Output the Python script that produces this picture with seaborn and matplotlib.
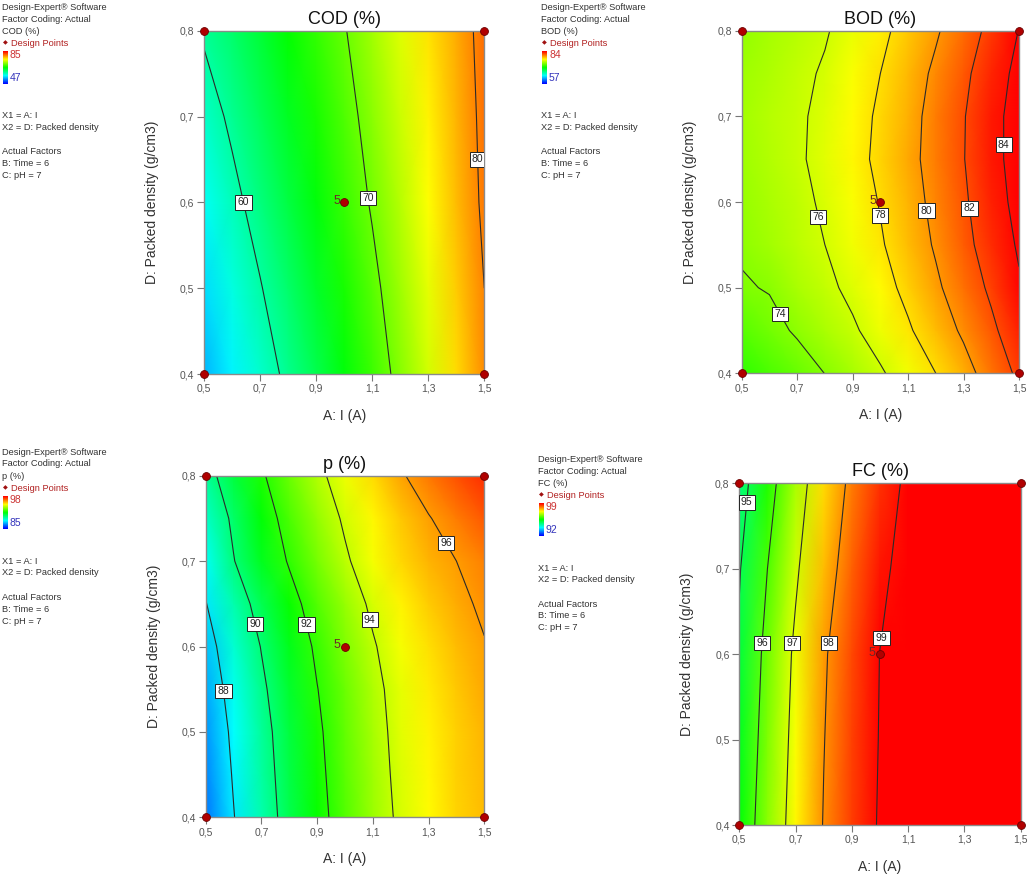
import numpy as np
import matplotlib
matplotlib.use("Agg")
import matplotlib.pyplot as plt
import seaborn as sns
from matplotlib.colors import LinearSegmentedColormap, Normalize
from matplotlib.ticker import FuncFormatter, FixedLocator
from matplotlib import font_manager

# ---------------- data ----------------
current_a = [0.5, 0.6, 0.7, 0.8, 0.9, 1.0, 1.1, 1.2, 1.3, 1.4, 1.5]   # A: I (A)
density_d = [0.4, 0.5, 0.6, 0.7, 0.8]                                  # D: Packed density
density_d_fine = [0.4, 0.45, 0.5, 0.55, 0.6, 0.65, 0.7, 0.75, 0.8]

cod_values = [
    [53.8, 56.1, 58.4, 60.7, 63.1, 65.6, 68.2, 70.9, 73.8, 76.7, 79.7],
    [55.3, 57.6, 59.8, 62.1, 64.4, 66.8, 69.2, 71.8, 74.6, 77.3, 80.0],
    [56.9, 59.1, 61.3, 63.5, 65.7, 68.0, 70.3, 72.8, 75.4, 77.9, 80.5],
    [58.5, 60.6, 62.6, 64.7, 66.8, 68.9, 71.1, 73.5, 75.9, 78.2, 80.7],
    [60.4, 62.1, 64.0, 66.0, 67.9, 69.8, 72.0, 74.2, 76.4, 78.6, 80.9],
]
bod_values = [
    [71.7, 72.45, 73.2, 74.02, 74.9, 75.8, 76.85, 78.0, 79.3, 80.85, 82.35],
    [72.8, 73.49, 74.2, 74.98, 75.76, 76.74, 77.79, 79.0, 80.28, 81.65, 83.1],
    [73.85, 74.1, 74.95, 75.6, 76.4, 77.35, 78.45, 79.7, 81.0, 82.3, 83.8],
    [74.2, 74.8, 75.4, 76.0, 76.91, 77.82, 78.97, 80.19, 81.48, 82.83, 84.21],
    [74.45, 75.0, 75.55, 76.25, 77.05, 78.1, 79.2, 80.5, 81.75, 83.1, 84.6],
    [74.7, 75.23, 75.76, 76.5, 77.41, 78.38, 79.48, 80.67, 81.94, 83.36, 84.79],
    [74.8, 75.25, 75.75, 76.4, 77.25, 78.3, 79.35, 80.65, 81.9, 83.35, 84.8],
    [74.65, 75.13, 75.61, 76.18, 77.09, 78.0, 79.14, 80.32, 81.61, 83.04, 84.52],
    [74.4, 74.85, 75.35, 75.85, 76.7, 77.6, 78.65, 79.8, 81.05, 82.5, 84.05],
]
p_values = [
    [86.5, 87.95, 89.3, 90.5, 91.6, 92.55, 93.45, 94.2, 94.8, 95.3, 95.6],
    [86.7, 88.1, 89.43, 90.6, 91.7, 92.65, 93.53, 94.28, 94.85, 95.33, 95.65],
    [86.9, 88.25, 89.55, 90.7, 91.8, 92.75, 93.6, 94.35, 94.9, 95.35, 95.7],
    [87.15, 88.5, 89.77, 90.9, 91.97, 92.87, 93.7, 94.43, 95.0, 95.45, 95.83],
    [87.45, 88.85, 90.05, 91.15, 92.2, 93.1, 93.9, 94.6, 95.15, 95.6, 95.95],
    [87.95, 89.3, 90.48, 91.58, 92.55, 93.4, 94.2, 94.9, 95.4, 95.78, 96.15],
    [88.4, 89.95, 91.1, 92.1, 93.0, 93.85, 94.6, 95.25, 95.7, 96.0, 96.35],
    [88.95, 90.22, 91.4, 92.45, 93.33, 94.15, 94.82, 95.45, 95.95, 96.4, 96.85],
    [89.55, 90.7, 91.85, 92.85, 93.75, 94.5, 95.2, 95.9, 96.45, 96.95, 97.4],
]
fc_values = [
    [95.45, 96.45, 97.3, 98.03, 98.58, 99.06, 99.4, 99.62, 99.76, 99.8, 99.8],
    [95.3, 96.35, 97.22, 97.98, 98.54, 99.03, 99.38, 99.61, 99.75, 99.8, 99.8],
    [95.1, 96.25, 97.13, 97.92, 98.5, 99.01, 99.35, 99.6, 99.75, 99.8, 99.8],
    [94.95, 96.0, 96.9, 97.7, 98.33, 98.85, 99.25, 99.53, 99.7, 99.78, 99.8],
    [94.66, 95.7, 96.65, 97.48, 98.15, 98.66, 99.13, 99.45, 99.65, 99.75, 99.8],
]

response_names = ["COD", "BOD", "p", "FC"]
color_min = [47, 57, 85, 92]
color_max = [85, 84, 98, 99]
cod_levels = [60, 70, 80]
bod_levels = [74, 76, 78, 80, 82, 84]
p_levels = [88, 90, 92, 94, 96]
fc_levels = [95, 96, 97, 98, 99]

design_a = [0.5, 0.5, 1.5, 1.5, 1.0]
design_d = [0.4, 0.8, 0.4, 0.8, 0.6]
center_replicates = "5"

x_ticks = [0.5, 0.7, 0.9, 1.1, 1.3, 1.5]
y_ticks = [0.4, 0.5, 0.6, 0.7, 0.8]

info_lines = ["X1 = A: I", "X2 = D: Packed density"]
actual_factor_lines = ["Actual Factors", "B: Time = 6", "C: pH = 7"]

# ---------------- style ----------------
sns.set_theme(style="white")
avail = {f.name for f in font_manager.fontManager.ttflist}
narrow = "Liberation Sans Narrow" if "Liberation Sans Narrow" in avail else "Liberation Sans"
plt.rcParams["font.family"] = ["Liberation Sans", "DejaVu Sans"]

cmap = LinearSegmentedColormap.from_list(
    "de", [(0.0, "#0000ff"), (0.25, "#00ffff"), (0.5, "#00ff00"),
           (0.75, "#ffff00"), (1.0, "#ff0000")])

W, H = 1028, 880
fig = plt.figure(figsize=(W / 100, H / 100), dpi=100)
fig.patch.set_facecolor("white")


def rect(l, t, r, b):
    return [l / W, 1 - b / H, (r - l) / W, (b - t) / H]


layout = [
    dict(rect=rect(204, 30.7, 484.3, 374), block=(2, 7),
         labels=[(0.64, 0.60), (1.085, 0.605), (1.475, 0.65)]),
    dict(rect=rect(741.7, 30.7, 1019, 373.3), block=(541, 7),
         labels=[(0.648, 0.471), (0.782, 0.583), (1.01, 0.585), (1.187, 0.591),
                 (1.334, 0.593), (1.454, 0.667)]),
    dict(rect=rect(205.7, 475.7, 484.3, 817.3), block=(2, 452),
         labels=[(0.566, 0.548), (0.687, 0.627), (0.874, 0.627), (1.108, 0.633),
                 (1.371, 0.723)]),
    dict(rect=rect(739.3, 483.3, 1020.7, 825), block=(538, 459),
         labels=[(0.522, 0.778), (0.577, 0.613), (0.686, 0.613), (0.814, 0.613),
                 (1.0, 0.619)]),
]
values_all = [cod_values, bod_values, p_values, fc_values]
rows_all = [density_d, density_d_fine, density_d_fine, density_d]
levels_all = [cod_levels, bod_levels, p_levels, fc_levels]

comma = FuncFormatter(lambda v, _: f"{v:.1f}".replace(".", ","))
text_col = "#333333"

for i, name in enumerate(response_names):
    lay = layout[i]
    X, Y = np.meshgrid(current_a, rows_all[i])
    Z = np.array(values_all[i])
    norm = Normalize(vmin=color_min[i], vmax=color_max[i])
    ax = fig.add_axes(lay["rect"])
    ax.pcolormesh(X, Y, Z, shading="gouraud", cmap=cmap, norm=norm, zorder=1)
    cs = ax.contour(X, Y, Z, levels=levels_all[i], colors="#2a2a2a",
                    linewidths=0.8, zorder=2)
    texts = ax.clabel(cs, levels_all[i], inline=False, fontsize=7.5, fmt="%d",
                      manual=lay["labels"], zorder=5)
    for t in texts:
        t.set_rotation(0)
        t.set_color("#222222")
        t.set_family(narrow)
        t.set_bbox(dict(boxstyle="square,pad=0.22", fc="white", ec="#222222", lw=0.7))
    sns.scatterplot(x=design_a, y=design_d, ax=ax, color="#b00000",
                    edgecolor="#6a0000", linewidth=0.6, s=32, zorder=10,
                    clip_on=False, legend=False)
    ax.annotate(center_replicates, (design_a[-1], design_d[-1]), xytext=(-3, 1),
                textcoords="offset points", ha="right", va="center",
                fontsize=9, color="#6b2a2a", zorder=11)
    ax.set_xlim(0.5, 1.5)
    ax.set_ylim(0.4, 0.8)
    ax.xaxis.set_major_locator(FixedLocator(x_ticks))
    ax.yaxis.set_major_locator(FixedLocator(y_ticks))
    ax.xaxis.set_major_formatter(comma)
    ax.yaxis.set_major_formatter(comma)
    ax.tick_params(axis="both", which="major", direction="out", length=5,
                   width=0.8, color="#777777", labelsize=7.5, labelcolor="#555555",
                   pad=2, bottom=True, left=True)
    for lbl in ax.get_xticklabels() + ax.get_yticklabels():
        lbl.set_family(narrow)
    for sp in ax.spines.values():
        sp.set_color("#8a8a8a")
        sp.set_linewidth(1.0)
    ax.set_title(f"{name} (%)", fontsize=13, color="#111111", pad=5,
                 family=["Liberation Sans", "DejaVu Sans"])
    ax.set_xlabel("A: I (A)", fontsize=10, color="#333333", labelpad=11)
    ax.set_ylabel("D: Packed density (g/cm3)", fontsize=10, color="#333333",
                  labelpad=15)

    # ---- side information block ----
    bx, by = lay["block"]

    def put(txt, px, py, color=text_col, size=6.7):
        fig.text(px / W, 1 - py / H, txt, ha="left", va="center", fontsize=size,
                 color=color, family=[narrow, "DejaVu Sans"])

    put("Design-Expert® Software", bx, by)
    put("Factor Coding: Actual", bx, by + 12)
    put(f"{name} (%)", bx, by + 24)
    fig.text((bx + 3) / W, 1 - (by + 36) / H, "◆", ha="center", va="center",
             fontsize=4.5, color="#a01010", family="DejaVu Sans")
    put("Design Points", bx + 9, by + 36, color="#b22222")
    cax = fig.add_axes(rect(bx + 1, by + 44, bx + 5.5, by + 77))
    cax.imshow(np.linspace(1, 0, 60).reshape(-1, 1), aspect="auto", cmap=cmap,
               extent=[0, 1, 0, 1])
    cax.set_axis_off()
    put(f"{color_max[i]}", bx + 8, by + 48, color="#cc3333", size=7.5)
    put(f"{color_min[i]}", bx + 8, by + 71, color="#3333bb", size=7.5)
    put(info_lines[0], bx, by + 109)
    put(info_lines[1], bx, by + 120)
    for k, line in enumerate(actual_factor_lines):
        put(line, bx, by + 145 + 12 * k)

fig.savefig("out.png", dpi=100, facecolor="white")
